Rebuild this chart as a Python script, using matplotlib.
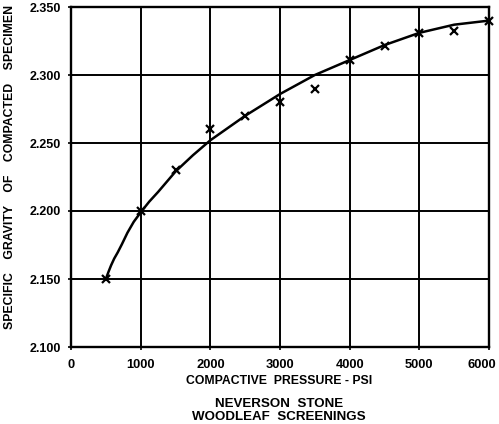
import matplotlib
matplotlib.use('Agg')
import matplotlib.pyplot as plt
from matplotlib.transforms import ScaledTranslation

# measured points (x markers)
pressure = [500, 1000, 1500, 2000, 2500, 3000, 3500, 4000, 4500, 5000, 5500, 6000]
gravity = [2.150, 2.200, 2.230, 2.260, 2.270, 2.280, 2.290, 2.311, 2.321, 2.331, 2.332, 2.340]

# hand-drawn smooth curve
curve_x = [500, 540, 575, 620, 670, 730, 810, 900, 1000, 1125, 1250, 1500, 1750, 2000,
           2500, 3000, 3500, 4000, 4500, 5000, 5500, 6000]
curve_y = [2.150, 2.1555, 2.160, 2.165, 2.1695, 2.1755, 2.184, 2.192, 2.199, 2.207,
           2.214, 2.229, 2.241, 2.252, 2.270, 2.286, 2.300, 2.311, 2.322, 2.331, 2.337,
           2.340]

x_ticks = [0, 1000, 2000, 3000, 4000, 5000, 6000]
y_ticks = [2.100, 2.150, 2.200, 2.250, 2.300, 2.350]
y_tick_labels = ['2.100', '2.150', '2.200', '2.250', '2.300', '2.350']

plt.rcParams['font.family'] = ['Liberation Sans', 'DejaVu Sans']
plt.rcParams['font.weight'] = 'bold'

fig = plt.figure(figsize=(4.99, 4.24), dpi=100)
ax = fig.add_axes([71 / 499, 1 - 347 / 424, (489 - 71) / 499, (347 - 7) / 424])

ax.plot(curve_x, curve_y, '-', color='black', lw=1.8, solid_capstyle='round',
        solid_joinstyle='round')
ax.plot(pressure, gravity, 'x', color='black', ms=6, mew=1.6, clip_on=False)

ax.set_xlim(0, 6000)
ax.set_ylim(2.100, 2.350)
ax.set_xticks(x_ticks)
ax.set_xticklabels([str(v) for v in x_ticks], fontsize=9.3, fontweight='bold')
ax.set_yticks(y_ticks)
ax.set_yticklabels(y_tick_labels, fontsize=9, fontweight='bold')
ax.tick_params(axis='both', length=2, width=1.2, color='black')
ax.tick_params(axis='x', pad=7)
ax.tick_params(axis='y', pad=5)
ax.grid(True, color='black', lw=1.4)
for s in ax.spines.values():
    s.set_linewidth(1.7)

# the last x label sits against the right edge; nudge it inside
last = ax.get_xticklabels()[-1]
last.set_transform(last.get_transform() + ScaledTranslation(-7 / 100, 0, fig.dpi_scale_trans))

fig.text(10 / 499, 1 - 167 / 424, 'SPECIFIC    GRAVITY    OF    COMPACTED    SPECIMEN',
         rotation=90, ha='center', va='center', fontsize=8.8, fontweight='bold')
fig.text(279 / 499, 1 - 381 / 424, 'COMPACTIVE  PRESSURE - PSI',
         ha='center', va='center', fontsize=8.8, fontweight='bold')
fig.text(279 / 499, 1 - 404 / 424, 'NEVERSON  STONE',
         ha='center', va='center', fontsize=9.6, fontweight='bold')
fig.text(279 / 499, 1 - 417 / 424, 'WOODLEAF  SCREENINGS',
         ha='center', va='center', fontsize=9.6, fontweight='bold')

fig.savefig('out.png', dpi=100)
